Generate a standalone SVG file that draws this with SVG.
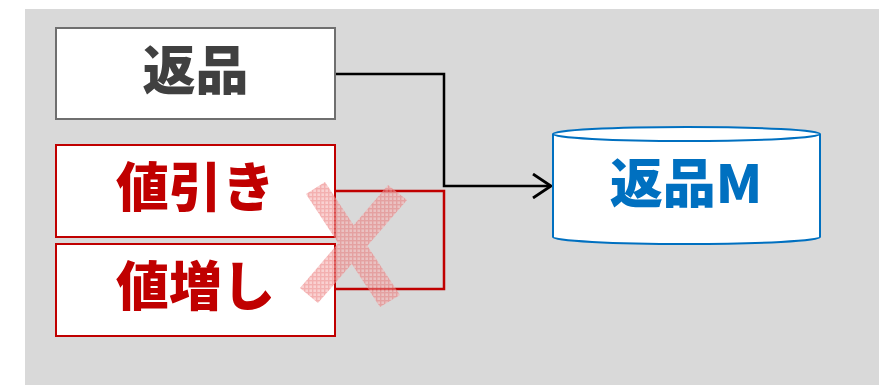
<svg xmlns="http://www.w3.org/2000/svg" width="879" height="385" viewBox="0 0 879 385">
  <defs>
    <style>
      .lbl { font-family: "Noto Sans CJK JP", "Noto Sans CJK SC", sans-serif; font-weight: 900; text-anchor: middle; }
      .box { fill: #FFFFFF; }
      .box-gray { stroke: #6F6F6F; stroke-width: 2; }
      .box-red { stroke: #C00000; stroke-width: 2; }
      .wire { fill: none; stroke-width: 2.5; }
    </style>
    <marker id="openArrow" viewBox="0 0 20 26" refX="19" refY="13" markerWidth="20" markerHeight="26" markerUnits="userSpaceOnUse" orient="auto">
      <path d="M1,1 L19,13 L1,25" fill="none" stroke="#000000" stroke-width="2.8"/>
    </marker>
    <pattern id="hatch" width="4" height="4" patternUnits="userSpaceOnUse">
      <rect width="4" height="4" fill="#F6B3B3"/>
      <rect x="0" y="0" width="1.4" height="4" fill="#EC7C7C"/>
      <rect x="0" y="0" width="4" height="1.4" fill="#EC7C7C"/>
    </pattern>
  </defs>

  <!-- backdrop -->
  <rect x="25" y="9" width="854" height="376" fill="#D9D9D9"/>

  <!-- connectors -->
  <g id="connectors">
    <polyline class="wire" stroke="#000000" points="335,74 444,74 444,186 551,186" marker-end="url(#openArrow)"/>
    <polyline class="wire" stroke="#C00000" points="335,191 444,191 444,289 335,289"/>
  </g>

  <!-- source nodes -->
  <g id="node-henpin">
    <rect class="box box-gray" x="56" y="28" width="279" height="91"/>
    <text class="lbl" x="195.5" y="90" font-size="53" fill="#404040">返品</text>
  </g>

  <g id="node-nebiki">
    <rect class="box box-red" x="56" y="145" width="279" height="92"/>
    <text class="lbl" x="195.5" y="207" font-size="53" fill="#C00000">値引き</text>
  </g>

  <g id="node-neage">
    <rect class="box box-red" x="56" y="244" width="279" height="92"/>
    <text class="lbl" x="195.5" y="306" font-size="53" fill="#C00000">値増し</text>
  </g>

  <!-- target master table -->
  <g id="node-henpin-master">
    <path d="M553,134 L553,237 A133.5,7 0 0 0 820,237 L820,134" fill="#FFFFFF" stroke="#0070C0" stroke-width="2"/>
    <ellipse cx="686.5" cy="134" rx="133.5" ry="7" fill="#FFFFFF" stroke="#0070C0" stroke-width="2"/>
    <text class="lbl" x="686" y="203" font-size="53" fill="#0070C0">返品M</text>
  </g>

  <!-- cancel mark -->
  <g id="cancel-mark" opacity="0.6">
    <polygon points="306,194 325,182 400,295 380,307" fill="url(#hatch)"/>
    <polygon points="388,185 407,200 318,303 300,288" fill="url(#hatch)"/>
  </g>
</svg>
